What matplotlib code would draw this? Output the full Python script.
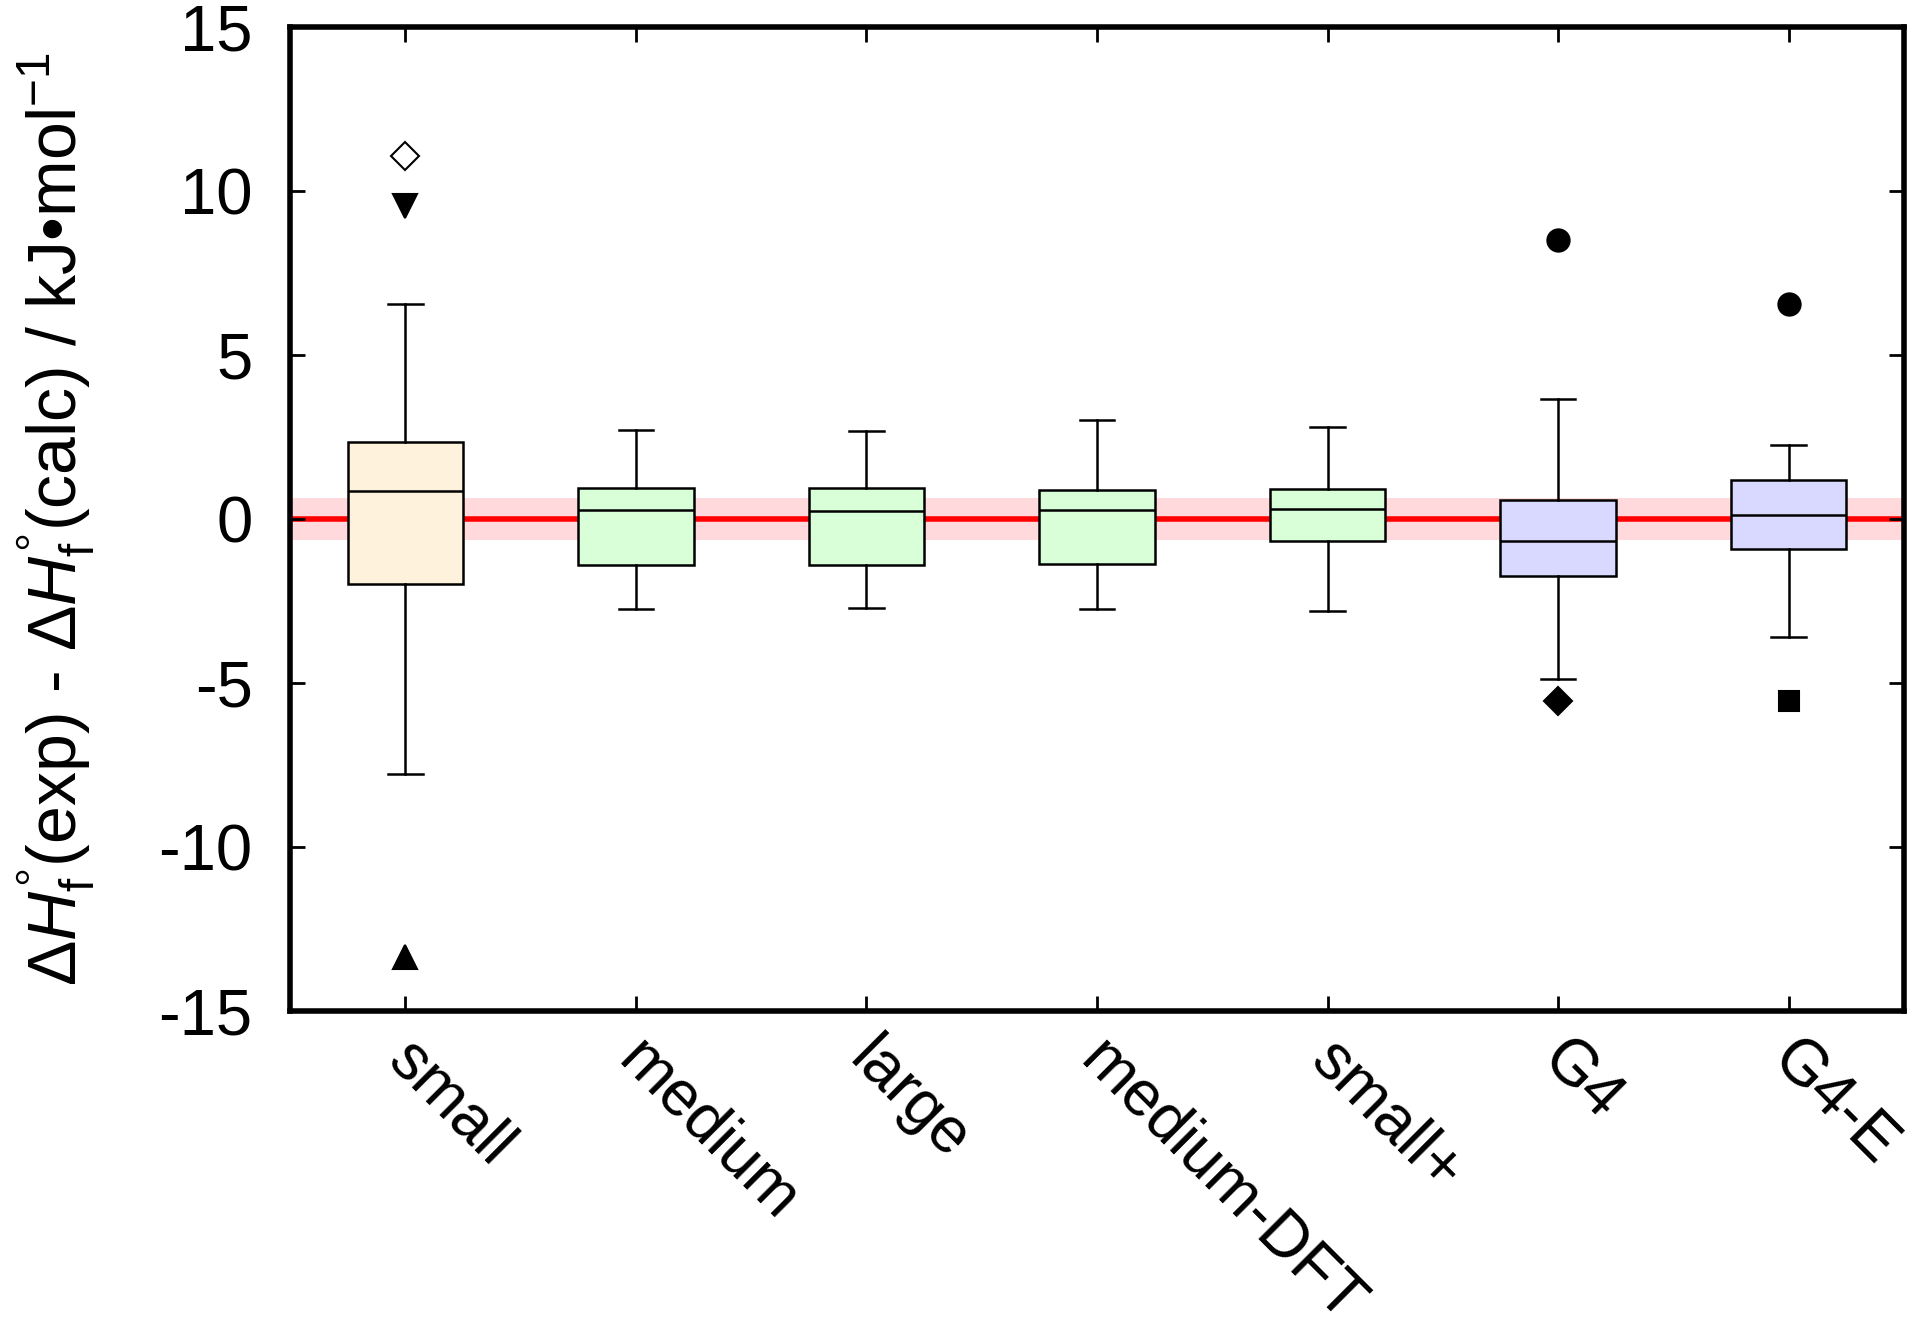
import matplotlib.pyplot as plt
from matplotlib.transforms import ScaledTranslation

plt.rcParams['font.family'] = ['Liberation Sans', 'DejaVu Sans']
plt.rcParams['mathtext.fontset'] = 'custom'
plt.rcParams['mathtext.rm'] = 'Liberation Sans'
plt.rcParams['mathtext.it'] = 'Liberation Sans:italic'
plt.rcParams['axes.unicode_minus'] = False

# data
labels = ['small', 'medium', 'large', 'medium-DFT', 'small+', 'G4', 'G4-E']
whislo = [-7.77, -2.75, -2.72, -2.75, -2.79, -4.89, -3.61]
q1 = [-1.97, -1.40, -1.40, -1.37, -0.66, -1.74, -0.92]
med = [0.84, 0.28, 0.24, 0.28, 0.32, -0.66, 0.13]
q3 = [2.34, 0.96, 0.96, 0.88, 0.92, 0.58, 1.18]
whishi = [6.54, 2.72, 2.68, 3.01, 2.79, 3.65, 2.27]
colors = ['#fff2dc', '#d9ffd9', '#d9ffd9', '#d9ffd9', '#d9ffd9', '#d9d9ff', '#d9d9ff']

# outliers: box index, value, marker, filled
out_idx = [0, 0, 0, 5, 5, 6, 6]
out_val = [11.07, 9.53, -13.35, 8.52, -5.56, 6.57, -5.56]
out_mark = ['D', 'v', '^', 'o', 'D', 'o', 's']
out_fill = [False, True, True, True, True, True, True]

band = 0.65

fig = plt.figure(figsize=(19.2, 13.4), dpi=100)
ax = fig.add_axes([290/1920, 1-1011/1340, (1904-290)/1920, (1011-27)/1340])

pos = list(range(1, len(labels)+1))
ax.axhspan(-band, band, color='#ffd9dc', lw=0, zorder=0)
ax.axhline(0, color='red', lw=4, zorder=1)

stats = []
for i in range(len(labels)):
    stats.append(dict(whislo=whislo[i], q1=q1[i], med=med[i], q3=q3[i], whishi=whishi[i], fliers=[]))
bp = ax.bxp(stats, positions=pos, widths=0.5, capwidths=0.15, patch_artist=True, showfliers=False,
            boxprops=dict(lw=1.8, edgecolor='black'),
            medianprops=dict(color='black', lw=1.8),
            whiskerprops=dict(color='black', lw=1.8),
            capprops=dict(color='black', lw=1.8), zorder=3)
for patch, c in zip(bp['boxes'], colors):
    patch.set_facecolor(c)

sizes = {'D': 14, 'v': 17, '^': 17, 'o': 16, 's': 14}
for i, v, m, f in zip(out_idx, out_val, out_mark, out_fill):
    ax.plot(pos[i], v, marker=m, ms=sizes[m], color='black',
            mfc='black' if f else 'white', mec='black', mew=1.5, ls='none', zorder=4)

ax.set_xlim(0.5, 7.5)
ax.set_ylim(-15, 15)
ax.set_yticks([-15, -10, -5, 0, 5, 10, 15])
ax.set_xticks(pos)
ax.set_xticklabels([])
# rotated category labels, placed by hand so they can be nudged
off = ax.get_xaxis_transform() + ScaledTranslation(14/100, -18/100, fig.dpi_scale_trans)
for p, lab in zip(pos, labels):
    ax.text(p, 0, lab, transform=off, rotation=-45, rotation_mode='anchor',
            ha='left', va='top', fontsize=46, clip_on=False)
ax.tick_params(direction='in', length=11, width=2, top=True, right=True)
ax.tick_params(axis='y', labelsize=47, pad=27)
for s in ax.spines.values():
    s.set_linewidth(4)
ax.set_ylabel('$\\Delta\\mathit{H}_\\mathrm{f}^{°}$(exp) - $\\Delta\\mathit{H}_\\mathrm{f}^{°}$(calc) / kJ•mol$^{-1}$',
              fontsize=49, labelpad=44)

fig.savefig('out.png', dpi=100)
